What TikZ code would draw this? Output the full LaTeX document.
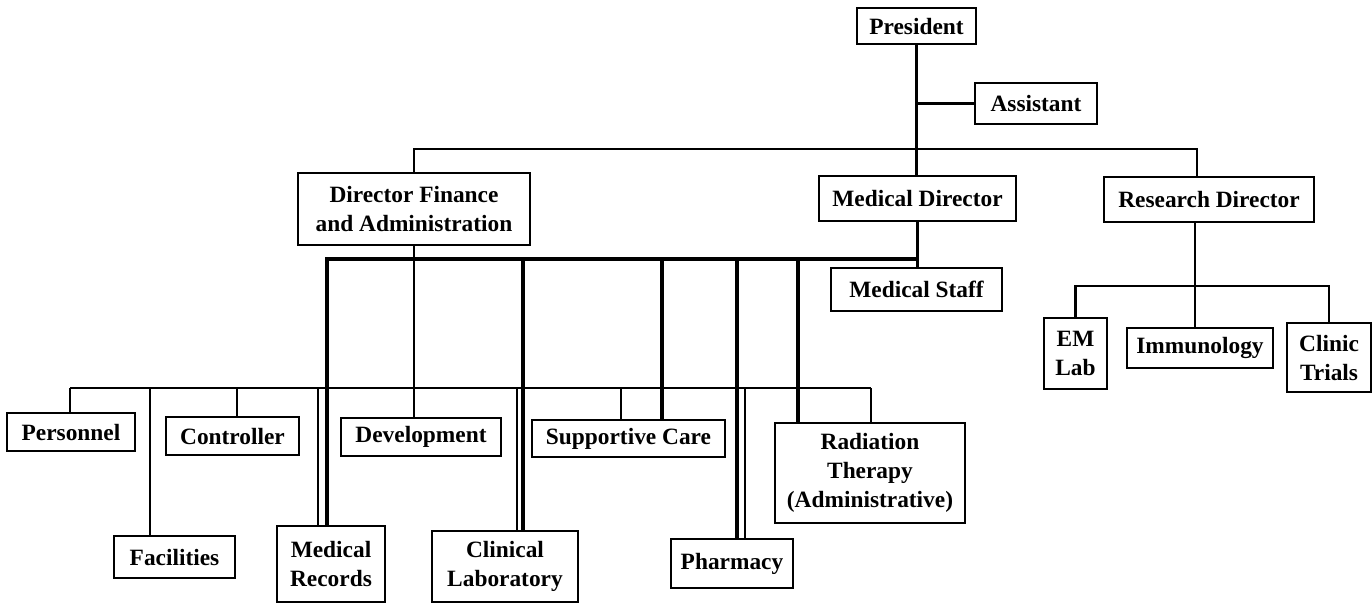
\documentclass[tikz,border=0pt]{standalone}
\usepackage{fontspec}
\setmainfont{Liberation Serif}
\begin{document}
\begin{tikzpicture}[x=0.02cm,y=-0.02cm,
    box/.style={draw,line width=1.5pt,align=center,inner sep=0pt,
      font=\bfseries\fontsize{13.3}{16.5}\selectfont},
    wh/.style 2 args={minimum width=#1*0.02cm,minimum height=#2*0.02cm},
    link/.style={line width=1.3pt},
    medlink/.style={line width=2.8pt}]
  \useasboundingbox (0,0) rectangle (1372,603);
  \node[box,wh={119}{36}] (pres) at (916.5,26) {President};
  \node[box,wh={122}{41}] (asst) at (1036,103.5) {Assistant};
  \node[box,wh={232}{72}] (dfa) at (414,209) {Director Finance\\and Administration};
  \node[box,wh={197}{45}] (med) at (917.5,198.5) {Medical Director};
  \node[box,wh={210}{45}] (res) at (1209,199.5) {Research Director};
  \node[box,wh={171}{43}] (staff) at (916.5,289.5) {Medical Staff};
  \node[box,wh={63}{71}] (em) at (1075.5,353.5) {EM\\Lab};
  \node[box,wh={146}{40}] (imm) at (1200,348) {Immunology};
  \node[box,wh={84}{69}] (trials) at (1329,357.5) {Clinic\\Trials};
  \node[box,wh={128}{38}] (pers) at (71,432) {Personnel};
  \node[box,wh={121}{42}] (fac) at (174.5,557) {Facilities};
  \node[box,wh={133}{38}] (ctrl) at (232.5,436) {Controller};
  \node[box,wh={108}{76}] (recs) at (331,564) {Medical\\Records};
  \node[box,wh={160}{38}] (dev) at (421,437) {Development};
  \node[box,wh={146}{71}] (lab) at (505,566.5) {Clinical\\Laboratory};
  \node[box,wh={193}{37}] (care) at (628.5,438.5) {Supportive Care};
  \node[box,wh={122}{49}] (phar) at (732,563.5) {Pharmacy};
  \node[box,wh={190}{100}] (rad) at (870,473) {Radiation\\Therapy\\(Administrative)};
  \coordinate (topbar) at (917,149);
  \coordinate (medbar) at (917.5,259);
  \coordinate (admbar) at (70,388);
  \coordinate (resbar) at (1195,286);
  \begin{scope}[link]
    \draw (pres.south) -- (pres.south |- med.north);
    \draw (pres.south |- asst.west) -- (asst.west);
    \draw (dfa.north) |- (topbar) -| (1197,0 |- res.north);
    \draw (med.south) -- (med.south |- staff.north);
    \draw (dfa.south) -- (dfa.south |- dev.north);
    \draw (admbar) -- (871,0 |- admbar);
    \foreach \x/\n in {70/pers,150/fac,237/ctrl,318/recs,517/lab,621/care,745/phar,871/rad}
      \draw (\x,0 |- admbar) -- (\x,0 |- \n.north);
    \draw (1195,0 |- res.south) -- (1195,0 |- imm.north);
    \draw (em.north) |- (resbar) -| (trials.north);
  \end{scope}
  \begin{scope}[medlink]
    \draw (medbar) -| (327,0 |- recs.north);
    \foreach \x/\n in {523/lab,662/care,737/phar,798/rad}
      \draw (\x,0 |- medbar) -- (\x,0 |- \n.north);
  \end{scope}
\end{tikzpicture}
\end{document}
